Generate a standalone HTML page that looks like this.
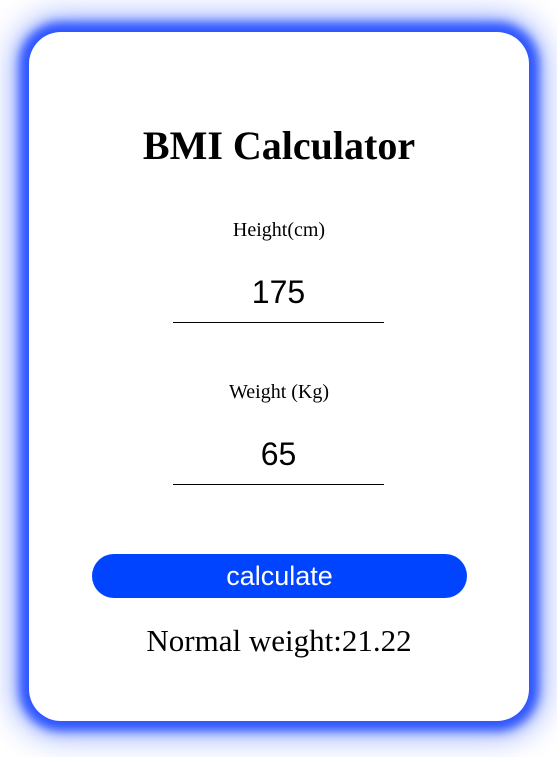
<!DOCTYPE html>
<html><head><meta charset="utf-8"><style>
html,body{margin:0;padding:0;width:557px;height:757px;background:#fff;overflow:hidden}
.card{position:absolute;left:29px;top:32px;width:500px;height:689px;background:#fff;border-radius:32px;box-shadow:0 0 10px 10px rgba(40,80,255,0.95),0 0 28px 18px rgba(60,100,255,0.45)}
h1{position:absolute;left:0;width:500px;top:91px;margin:0;text-align:center;font:bold 40px "Liberation Serif",serif;line-height:46px}
.lbl{position:absolute;left:0;width:500px;text-align:center;font:20px "Liberation Serif",serif;line-height:24px}
.inp{position:absolute;left:144px;width:211px;height:50px;border:none;border-bottom:1px solid #000;text-align:center;font:32px "Liberation Sans",sans-serif;background:transparent;padding:0;padding-bottom:10px;box-sizing:border-box;outline:none}
.btn{position:absolute;left:63px;top:522px;width:375px;height:44px;border:none;border-radius:22px;background:#0044ff;color:#fff;font:27px "Liberation Sans",sans-serif;padding:0}
.res{position:absolute;left:0;width:500px;top:591px;text-align:center;font:31px "Liberation Serif",serif;line-height:36px}
</style></head><body>
<div class="card">
<h1>BMI Calculator</h1>
<div class="lbl" style="top:186px">Height(cm)</div>
<input class="inp" style="top:241px" value="175">
<div class="lbl" style="top:348px">Weight (Kg)</div>
<input class="inp" style="top:403px" value="65">
<button class="btn">calculate</button>
<div class="res">Normal weight:21.22</div>
</div>
</body></html>
